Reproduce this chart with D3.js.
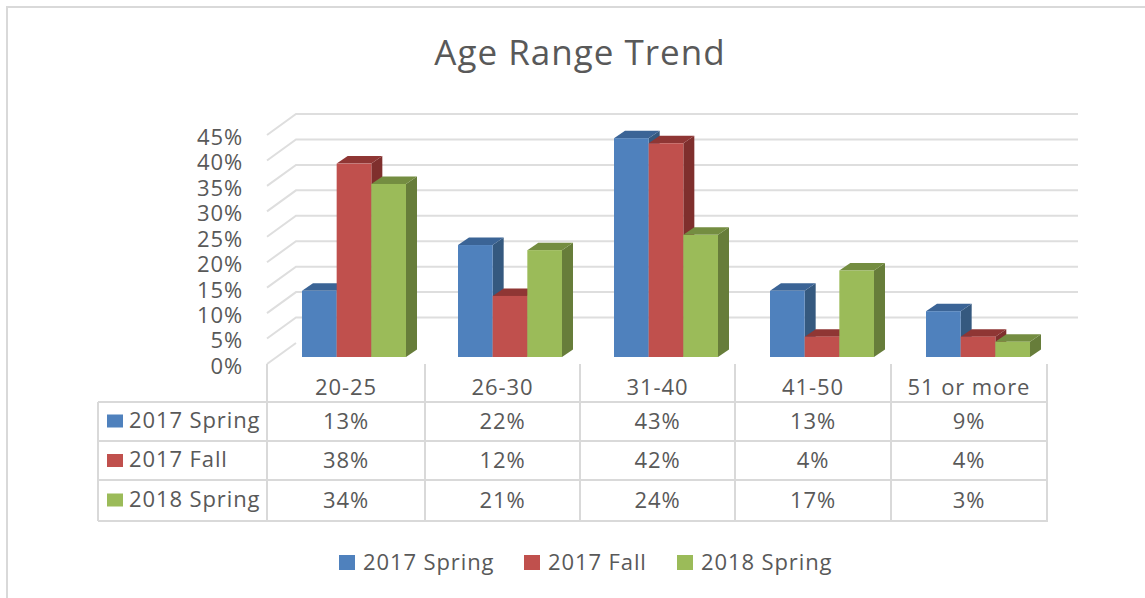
<!DOCTYPE html>
<html><head><meta charset="utf-8">
<script src="https://cdn.jsdelivr.net/npm/d3@7/dist/d3.min.js"></script>
<style>
html,body{margin:0;padding:0;background:#fff;overflow:hidden}
svg{display:block}
text{font-family:"Open Sans",sans-serif;fill:#595959;font-size:22px;letter-spacing:.9px}
</style></head><body><script>
const categories = ["20-25","26-30","31-40","41-50","51 or more"];
const seriesNames = ["2017 Spring","2017 Fall","2018 Spring"];
const spring2017 = [13,22,43,13,9];
const fall2017 = [38,12,42,4,4];
const spring2018 = [34,21,24,17,3];
const seriesValues = [spring2017, fall2017, spring2018];
const valueTicks = [0,5,10,15,20,25,30,35,40,45];
const title = "Age Range Trend";

const front = ["#4F81BD","#C0504D","#9BBB59"];
const side  = ["#35597F","#7F2F2D","#677D3A"];
const top_  = ["#3B6496","#8F3634","#748D41"];
const W=1145,H=598;
const svg=d3.select("body").append("svg").attr("width",W).attr("height",H);
const gridCol="#dedede", tableCol="#d9d9d9";

// frame
svg.append("path").attr("d",`M7,${H}V7H${W}`).attr("fill","none").attr("stroke",tableCol).attr("stroke-width",2);

// title
svg.append("text").attr("x",580).attr("y",65).attr("text-anchor","middle")
  .style("font-size","35px").style("letter-spacing","1px").text(title);

// scales
const x=d3.scaleBand().domain(categories).range([267,1047]);
const inner=d3.scaleBand().domain(d3.range(3)).range([35,139]);
const yBack=d3.scaleLinear().domain([0,45]).range([343,114]);
const yFront=d3.scaleLinear().domain([0,45]).range([364,135]);
const yBar=d3.scaleLinear().domain([0,45]).range([357,128]);
const DX=11,DY=7.5;

// gridlines
const grid=svg.append("g").attr("fill","none").attr("stroke",gridCol).attr("stroke-width",2);
grid.selectAll("path").data(valueTicks).join("path")
  .attr("d",d=>`M267,${yFront(d)}L296,${yBack(d)}`+(d===0?"":`H1078`));

// value axis
const ax=svg.append("g").attr("transform","translate(243,1.5)")
  .call(d3.axisLeft(yFront).tickValues(valueTicks).tickFormat(d=>d+"%").tickSize(0).tickPadding(0));
ax.select(".domain").remove();
ax.selectAll("text").attr("dy","0.36em").style("font-size","22px").style("font-family",'"Open Sans",sans-serif').attr("fill","#595959");

// bars
const groups=svg.selectAll("g.cat").data(categories).join("g").attr("class","cat")
  .attr("transform",d=>`translate(${x(d)},0)`);
groups.each(function(cat,ci){
  const g=d3.select(this);
  seriesValues.forEach((vals,si)=>{
    const x0=inner(si),w=inner.bandwidth(),y0=yBar(0),y1=yBar(vals[ci]);
    g.append("path").attr("fill",side[si])
      .attr("d",`M${x0+w},${y0}L${x0+w+DX},${y0-DY}V${y1-DY}L${x0+w},${y1}Z`);
    g.append("path").attr("fill",top_[si])
      .attr("d",`M${x0},${y1}L${x0+DX},${y1-DY}H${x0+w+DX}L${x0+w},${y1}Z`);
    g.append("rect").attr("fill",front[si]).attr("x",x0).attr("y",y1).attr("width",w).attr("height",y0-y1);
  });
});

// data table
const rowY=[402,441,480,521];
const rowMid=[421,460.5,500];
const colEdges=[267,425,580,735,891,1047];
const colMid=i=>(colEdges[i]+colEdges[i+1])/2;
const tb=svg.append("g").attr("stroke",tableCol).attr("stroke-width",2).attr("fill","none");
rowY.forEach(y=>tb.append("line").attr("x1",98).attr("x2",1048).attr("y1",y).attr("y2",y));
tb.append("line").attr("x1",98).attr("x2",98).attr("y1",402).attr("y2",521);
colEdges.forEach(v=>tb.append("line").attr("x1",v).attr("x2",v).attr("y1",364).attr("y2",521));

svg.selectAll("text.cat").data(categories).join("text").attr("class","cat")
  .attr("x",(d,i)=>colMid(i)).attr("y",387).attr("dy","0.36em").attr("text-anchor","middle").text(d=>d);
seriesNames.forEach((name,si)=>{
  svg.append("rect").attr("x",107).attr("y",rowMid[si]-6.5).attr("width",16).attr("height",13).attr("fill",front[si]);
  svg.append("text").attr("x",129).attr("y",rowMid[si]-1).attr("dy","0.36em").text(name);
  svg.selectAll(null).data(seriesValues[si]).join("text")
    .attr("x",(d,i)=>colMid(i)).attr("y",rowMid[si]).attr("dy","0.36em")
    .attr("text-anchor","middle").text(d=>d+"%");
});

// legend
const legX=[339,524,677];
seriesNames.forEach((name,si)=>{
  svg.append("rect").attr("x",legX[si]).attr("y",555).attr("width",16).attr("height",15).attr("fill",front[si]);
  svg.append("text").attr("x",legX[si]+24).attr("y",562).attr("dy","0.36em").text(name);
});
</script></body></html>
